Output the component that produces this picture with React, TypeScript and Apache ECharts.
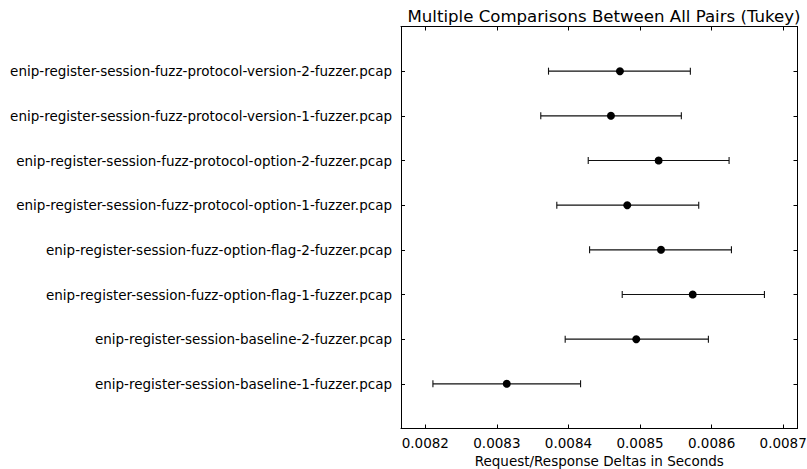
import React, { useEffect, useRef } from "react";
import * as echarts from "echarts";

const names = [
  "enip-register-session-baseline-1-fuzzer.pcap",
  "enip-register-session-baseline-2-fuzzer.pcap",
  "enip-register-session-fuzz-option-flag-1-fuzzer.pcap",
  "enip-register-session-fuzz-option-flag-2-fuzzer.pcap",
  "enip-register-session-fuzz-protocol-option-1-fuzzer.pcap",
  "enip-register-session-fuzz-protocol-option-2-fuzzer.pcap",
  "enip-register-session-fuzz-protocol-version-1-fuzzer.pcap",
  "enip-register-session-fuzz-protocol-version-2-fuzzer.pcap",
];
const means = [0.0083138, 0.0084947, 0.0085736, 0.0085293, 0.0084821, 0.008526, 0.0084593, 0.0084719];
const lowers = [0.0082106, 0.0083954, 0.0084751, 0.0084295, 0.0083837, 0.0084276, 0.0083613, 0.0083721];
const uppers = [0.0084169, 0.0085955, 0.0086738, 0.0086277, 0.008582, 0.0086244, 0.0085577, 0.0085703];
const xTicks = [0.0082, 0.0083, 0.0084, 0.0085, 0.0086, 0.0087];
const yTicks = [0, 1, 2, 3, 4, 5, 6, 7];

const FONT = "DejaVu Sans";

export default function App() {
  const ref = useRef<HTMLDivElement>(null);
  useEffect(() => {
    if (!ref.current) return;
    const chart = echarts.init(ref.current, null, { renderer: "svg" });
    const axisLine = { show: true, onZero: false, lineStyle: { color: "#000", width: 1 } };
    const tickStyle = { show: true, inside: true, length: 4, lineStyle: { color: "#000", width: 1 } };
    const xBase = {
      type: "value" as const,
      min: 0.008166,
      max: 0.00872,
      scale: true,
      splitLine: { show: false },
      axisLine,
    };
    const yBase = {
      type: "value" as const,
      min: -1,
      max: 8,
      interval: 1,
      splitLine: { show: false },
      axisLine,
    };
    chart.setOption({
      animation: false,
      title: {
        text: "Multiple Comparisons Between All Pairs (Tukey)",
        left: 599,
        textAlign: "center",
        top: 3,
        textStyle: { fontFamily: FONT, fontSize: 16.6, fontWeight: "normal", color: "#000" },
      },
      grid: {
        left: 401,
        right: 9.5,
        top: 26.5,
        bottom: 40.5,
        containLabel: false,
        outerBoundsMode: "none",
      },
      xAxis: [
        {
          ...xBase,
          position: "bottom",
          name: "Request/Response Deltas in Seconds",
          nameLocation: "middle",
          nameGap: 23,
          nameTextStyle: { fontFamily: FONT, fontSize: 13.5, color: "#000", verticalAlign: "top" },
          axisTick: { ...tickStyle, customValues: xTicks },
          axisLabel: {
            customValues: xTicks,
            margin: 7,
            fontFamily: FONT,
            fontSize: 13.5,
            color: "#000",
            formatter: (v: number) => v.toFixed(4),
          },
        },
        {
          ...xBase,
          position: "top",
          axisTick: { ...tickStyle, customValues: xTicks },
          axisLabel: { show: false },
        },
      ],
      yAxis: [
        {
          ...yBase,
          position: "left",
          axisTick: { ...tickStyle, customValues: yTicks },
          axisLabel: {
            customValues: yTicks,
            margin: 9,
            fontFamily: FONT,
            fontSize: 13.5,
            color: "#000",
            formatter: (v: number) => names[v] ?? "",
          },
        },
        {
          ...yBase,
          position: "right",
          axisTick: { ...tickStyle, customValues: yTicks },
          axisLabel: { show: false },
        },
      ],
      series: [
        {
          type: "custom",
          xAxisIndex: 0,
          yAxisIndex: 0,
          data: names.map((_, i) => [lowers[i], uppers[i], i]),
          renderItem: (params: any, api: any) => {
            const lo = api.coord([api.value(0), api.value(2)]);
            const hi = api.coord([api.value(1), api.value(2)]);
            const y = lo[1];
            const cap = 3.5;
            const st = { stroke: "#111", lineWidth: 1.1 };
            return {
              type: "group",
              children: [
                { type: "line", shape: { x1: lo[0], y1: y, x2: hi[0], y2: y }, style: st },
                { type: "line", shape: { x1: lo[0], y1: y - cap, x2: lo[0], y2: y + cap }, style: st },
                { type: "line", shape: { x1: hi[0], y1: y - cap, x2: hi[0], y2: y + cap }, style: st },
              ],
            };
          },
          z: 2,
        },
        {
          type: "scatter",
          xAxisIndex: 0,
          yAxisIndex: 0,
          data: names.map((_, i) => [means[i], i]),
          symbol: "circle",
          symbolSize: 8,
          itemStyle: { color: "#000", opacity: 1 },
          z: 3,
        },
      ],
    });
    return () => chart.dispose();
  }, []);
  return (
    <div
      ref={ref}
      style={{ position: "fixed", left: 0, top: 0, width: 807, height: 469, background: "#fff" }}
    />
  );
}
